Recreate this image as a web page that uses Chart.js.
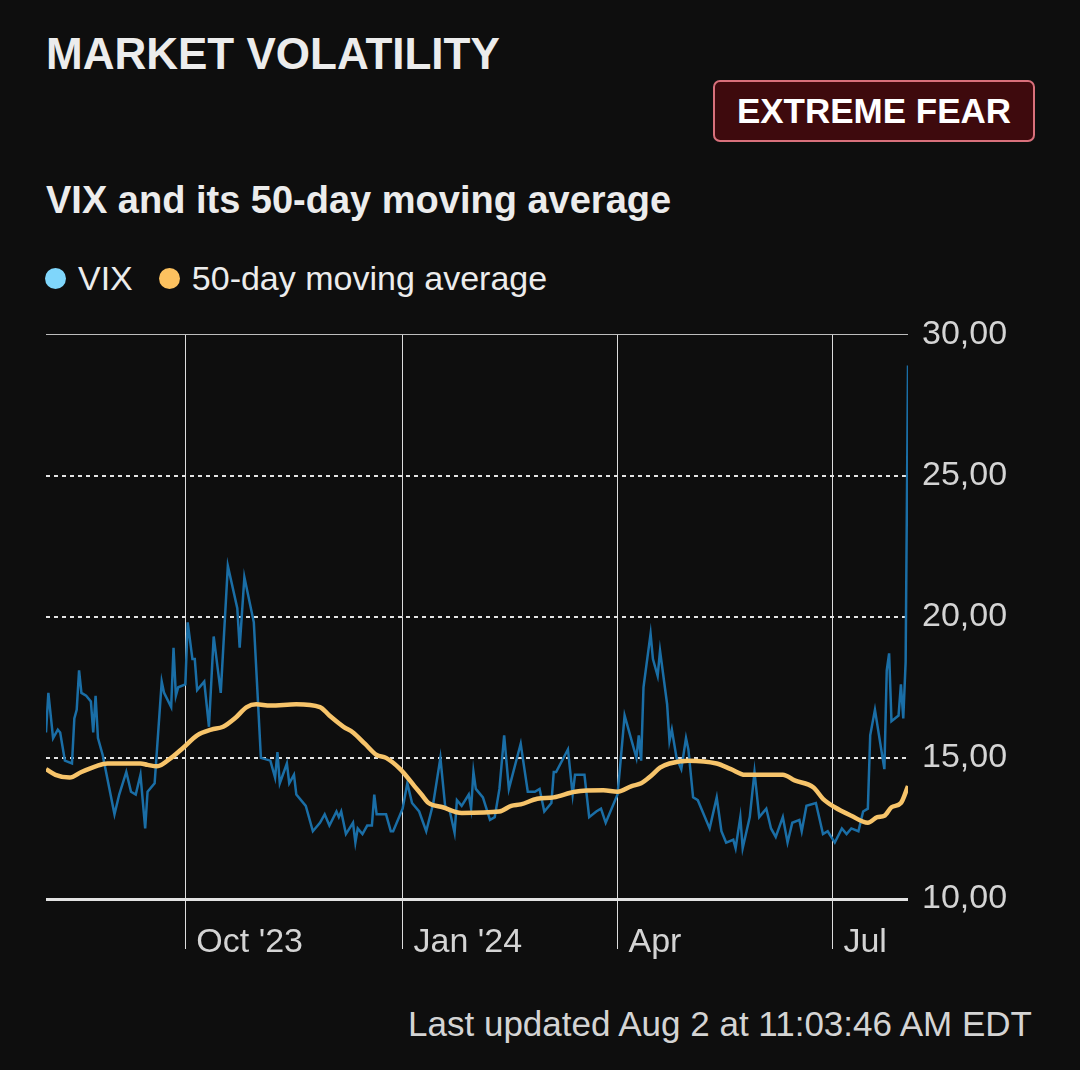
<!DOCTYPE html>
<html>
<head>
<meta charset="utf-8">
<script src="https://cdn.jsdelivr.net/npm/chart.js@4.4.1/dist/chart.umd.min.js"></script>
<style>
  html, body { margin: 0; padding: 0; background: #0e0e0e; }
  body { width: 1080px; height: 1070px; position: relative; overflow: hidden;
         font-family: 'Liberation Sans', Arial, sans-serif; color: #ececec; }
  .title { position: absolute; left: 46px; top: 27px; font-size: 44px; font-weight: bold; line-height: 54px; }
  .badge { position: absolute; left: 713px; top: 80px; width: 322px; height: 62px; box-sizing: border-box;
           background: #3e0a0d; border: 2px solid #d9707b; border-radius: 7px;
           font-size: 35px; font-weight: bold; color: #fff; text-align: center; line-height: 58px; }
  .subtitle { position: absolute; left: 46px; top: 178px; font-size: 38px; font-weight: bold; line-height: 44px; }
  .legend { position: absolute; left: 45px; top: 258px; font-size: 34px; line-height: 40px; display: flex; align-items: center; }
  .legend .dot { width: 21px; height: 21px; border-radius: 50%; display: inline-block; margin-right: 12px; }
  .legend .item { display: flex; align-items: center; margin-right: 26px; }
  .footer { position: absolute; right: 48px; top: 1004px; font-size: 35px; line-height: 40px; color: #d4d4d4; }
  #wrap { position: absolute; left: 46px; top: 300px; width: 1034px; height: 680px; }
</style>
</head>
<body>
<div class="title">MARKET VOLATILITY</div>
<div class="badge">EXTREME FEAR</div>
<div class="subtitle">VIX and its 50-day moving average</div>
<div class="legend">
  <span class="item"><span class="dot" style="background:#7fd6fb"></span>VIX</span>
  <span class="item"><span class="dot" style="background:#fcc15f"></span>50-day moving average</span>
</div>
<div id="wrap"><canvas id="vixChart"></canvas></div>
<div class="footer">Last updated Aug 2 at 11:03:46 AM EDT</div>

<script>
// days counted from Aug 2, 2023
const vixDays = [1, 2, 4, 6, 7, 9, 12, 13, 14, 15, 16, 18, 20, 21, 22, 23, 25, 30, 32, 35, 37, 39, 41, 43, 44, 47,
  50, 51, 54, 55, 56, 57, 60, 61, 63, 64, 65, 68, 70, 72, 75, 78, 82, 83, 85, 89, 92, 96, 98, 99, 100, 103, 104, 106, 107,
  111, 114, 117, 119, 121, 124, 125, 126, 128, 131, 132, 133, 135, 137, 139, 140, 141, 145, 147, 148, 152, 154, 156, 159,
  162, 165, 168, 170, 172, 174, 175, 177, 180, 181, 182, 183, 186, 189, 191, 193, 195, 197, 202, 205, 208, 210, 212, 215,
  216, 217, 222, 224, 225, 229, 231, 234, 236, 238, 243, 244, 246, 251, 252, 253, 254, 257, 258, 260, 261, 264, 265, 266,
  268, 270, 272, 273, 275, 277, 282, 285, 287, 289, 292, 293, 295, 296, 299, 301, 303, 306, 308, 310, 313, 315, 317, 320,
  321, 323, 327, 330, 332, 335, 338, 340, 342, 345, 347, 349, 350, 352, 356, 357, 358, 359, 362, 363, 364, 365, 366];
const vixValues = [15.9, 17.3, 15.7, 16.0, 15.9, 14.9, 14.8, 16.4, 16.7, 18.1, 17.3, 17.2, 17.0, 15.9, 17.2, 15.7, 15.1, 13.0, 13.7, 14.5, 13.8, 13.7, 14.4, 12.5, 13.8, 14.1,
  17.7, 17.3, 16.8, 18.9, 17.2, 17.5, 17.6, 19.8, 18.5, 18.5, 17.4, 17.7, 16.1, 19.3, 17.3, 21.8, 20.3, 18.9, 21.4, 19.8, 15.0, 14.9, 14.3, 15.2, 14.1, 14.8, 14.1, 14.4, 13.7,
  13.3, 12.4, 12.7, 13.0, 12.6, 13.1, 12.9, 13.1, 12.3, 12.7, 12.0, 12.5, 12.3, 12.6, 12.6, 13.7, 13.0, 13.0, 12.4, 12.4, 13.2, 14.1, 13.4, 13.1,
  12.4, 13.4, 15.0, 13.3, 13.1, 12.35, 13.5, 13.3, 13.7, 13.2, 14.5, 13.9, 13.6, 12.8, 12.9, 13.9, 15.8, 13.9, 15.5, 13.8, 13.8, 13.9, 13.1, 13.4,
  14.5, 14.5, 15.3, 13.7, 14.4, 14.4, 12.9, 13.1, 13.2, 12.7, 13.7, 14.6, 16.5, 15.0, 15.8, 14.9, 17.5, 19.4, 18.5, 17.9, 18.8, 16.9, 15.6, 16.0,
  15.0, 14.6, 15.7, 15.3, 13.6, 13.5, 12.5, 13.6, 12.4, 12.0, 12.1, 11.8, 12.9, 11.8, 12.9, 14.5, 12.9, 13.2, 12.5, 12.2, 12.9, 12.0, 12.7, 12.8,
  12.4, 13.3, 13.4, 12.3, 12.4, 12.0, 12.5, 12.3, 12.5, 12.4, 13.1, 13.2, 15.8, 16.7, 14.6, 18.1, 18.7, 16.3, 16.5, 17.6, 16.4, 18.4, 28.9];

const maDays = [1, 5, 11, 16, 22, 27, 41, 44, 48, 54, 59, 65, 71, 76, 81, 86, 90, 96, 107, 117, 121, 127, 131, 136, 141,
  145, 151, 157, 160, 163, 169, 177, 193, 198, 202, 209, 216, 225, 237, 243, 249, 253, 257, 261, 265, 273, 285, 291, 297,
  313, 318, 326, 330, 335, 342, 349, 353, 356, 359, 363, 366];
const maValues = [14.6, 14.4, 14.3, 14.5, 14.7, 14.8, 14.8, 14.75, 14.7, 15.0, 15.35, 15.8, 16.0, 16.1, 16.4, 16.8, 16.9, 16.85, 16.9, 16.8, 16.5, 16.1, 15.9, 15.5, 15.1,
  15.0, 14.6, 14.0, 13.7, 13.4, 13.25, 13.05, 13.1, 13.3, 13.35, 13.55, 13.6, 13.8, 13.85, 13.8, 14.0, 14.1, 14.35, 14.65, 14.8, 14.9, 14.8, 14.6, 14.4,
  14.4, 14.2, 13.95, 13.55, 13.25, 12.95, 12.7, 12.9, 12.95, 13.25, 13.4, 14.0];

const tickDays = [60, 152, 243, 334];
const tickLabels = ["Oct '23", "Jan '24", "Apr", "Jul"];
const yTicks = [10, 15, 20, 25, 30];

Chart.defaults.font.family = "'Liberation Sans', Arial, sans-serif";

function renderChart() {
  const ctx = document.getElementById('vixChart').getContext('2d');
  const vixColor = '#1a6ea6';
  const maColor = '#f7c46a';
  const gridColor = '#dcdcdc';

  new Chart(ctx, {
    type: 'line',
    data: {
      datasets: [
        { label: '50-day moving average', data: maDays.map((d, i) => ({ x: d, y: maValues[i] })),
          borderColor: maColor, borderWidth: 4.5, pointRadius: 0, cubicInterpolationMode: 'monotone', order: 0 },
        { label: 'VIX', data: vixDays.map((d, i) => ({ x: d, y: vixValues[i] })),
          borderColor: vixColor, borderWidth: 2.5, pointRadius: 0, tension: 0, order: 1 }
      ]
    },
    options: {
      responsive: true, maintainAspectRatio: false, animation: false,
      layout: { padding: { top: 30, left: 0, right: 0, bottom: 0 } },
      scales: {
        x: {
          type: 'linear', min: 1, max: 366,
          afterBuildTicks: axis => { axis.ticks = tickDays.map(v => ({ value: v })); },
          afterFit: axis => { axis.height = 81; },
          ticks: { autoSkip: false, maxRotation: 0, align: 'start', labelOffset: 11, padding: -27,
                   color: '#d4d4d4', font: { size: 34 },
                   callback: v => tickLabels[tickDays.indexOf(v)] },
          grid: { color: gridColor, lineWidth: 1, drawTicks: true, tickLength: 50, tickColor: gridColor },
          border: { display: false }
        },
        y: {
          position: 'right', min: 10, max: 30,
          afterBuildTicks: axis => { axis.ticks = yTicks.map(v => ({ value: v })); },
          afterFit: axis => { axis.width = 172; },
          ticks: { padding: 14, color: '#d4d4d4', font: { size: 34 },
                   callback: v => v.toFixed(2).replace('.', ',') },
          grid: { drawTicks: false,
                  color: c => c.tick && c.tick.value === 30 ? '#bdbdbd' : '#e2e2e2',
                  lineWidth: c => c.tick && c.tick.value === 10 ? 3 : (c.tick && c.tick.value === 30 ? 1 : 2) },
          border: { display: false, dash: c => (c.tick && (c.tick.value === 10 || c.tick.value === 30)) ? [] : [4, 4] }
        }
      },
      plugins: { legend: { display: false }, tooltip: { enabled: false } }
    }
  });
}
document.addEventListener('DOMContentLoaded', renderChart);
</script>
</body>
</html>
